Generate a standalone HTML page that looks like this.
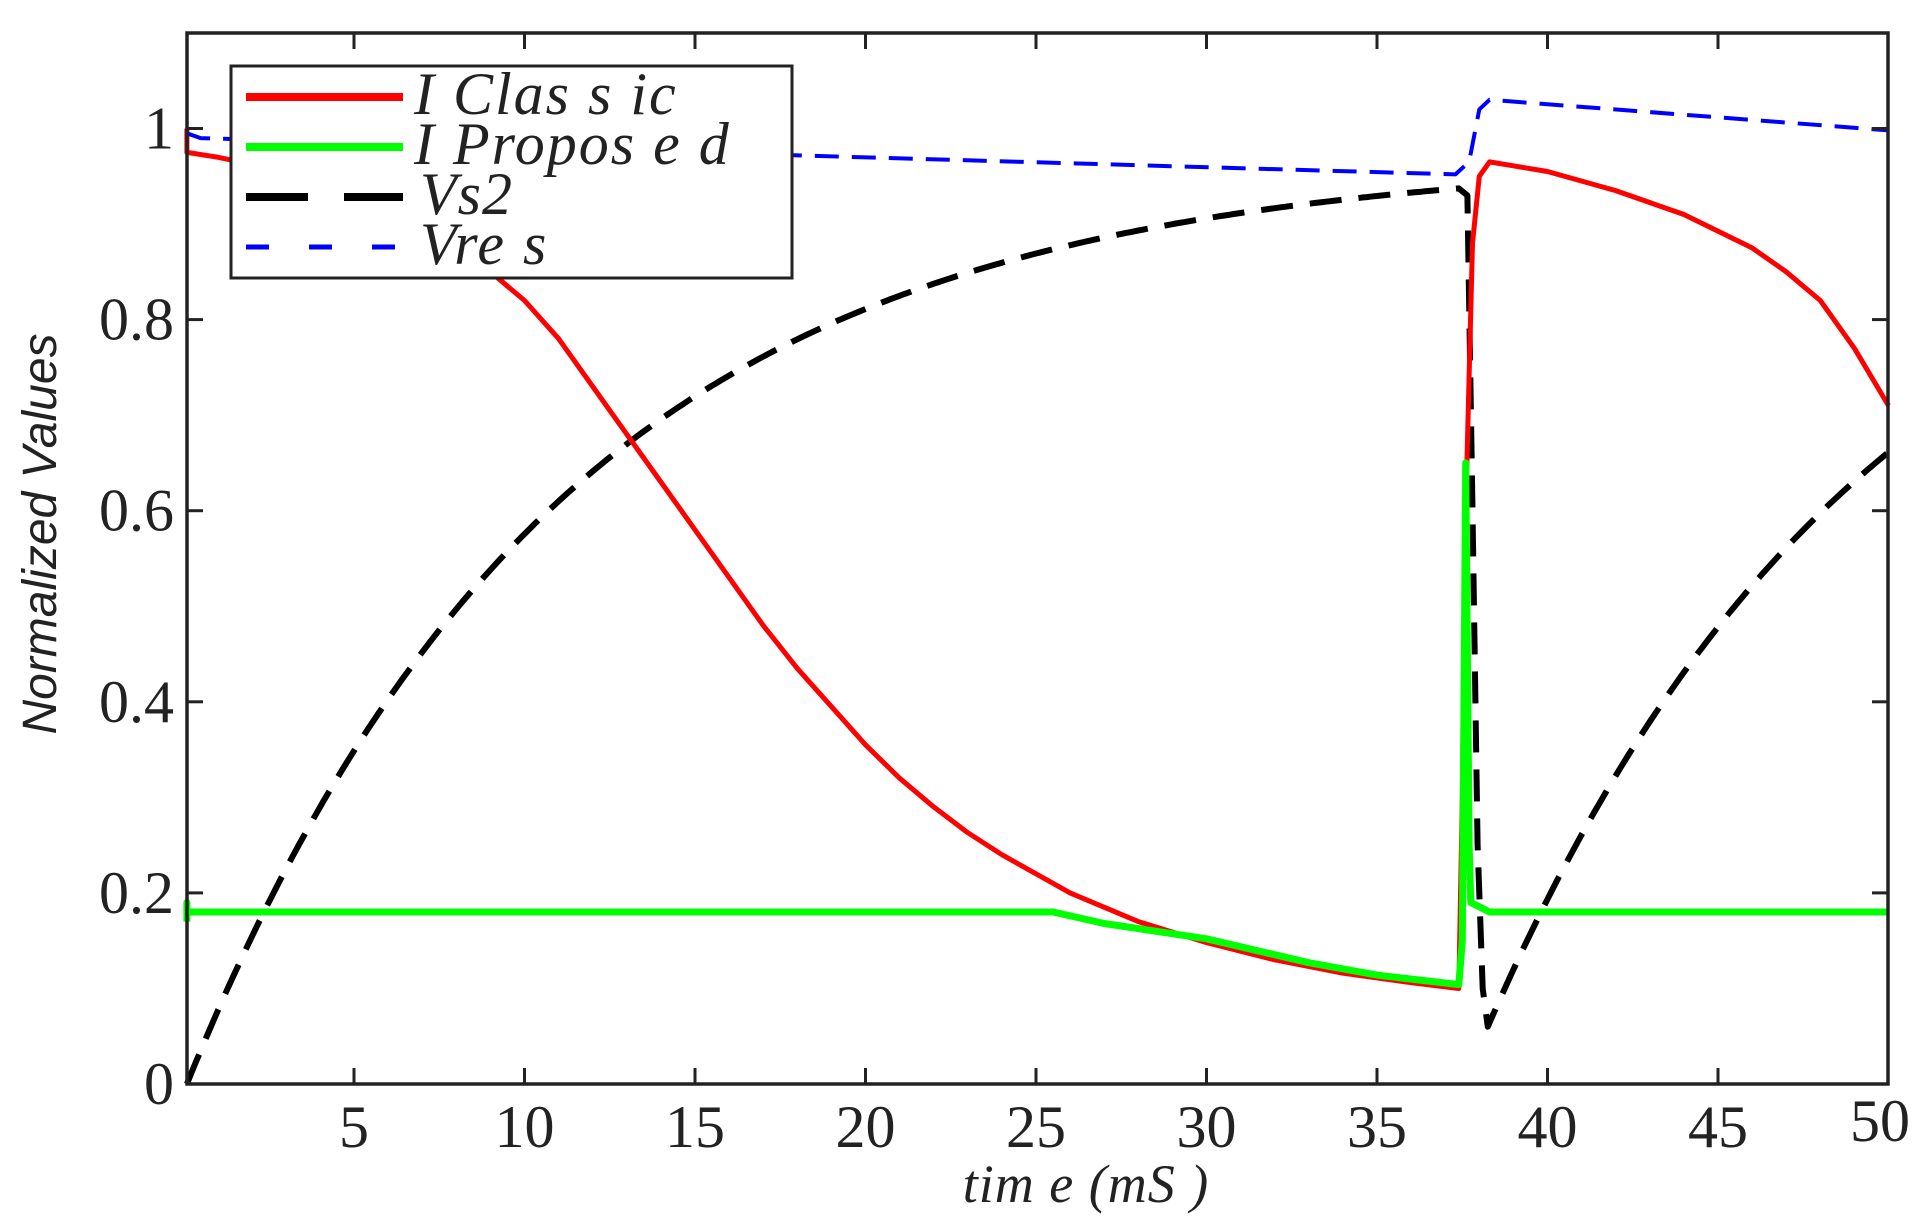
<!DOCTYPE html>
<html><head><meta charset="utf-8"><style>
html,body{margin:0;padding:0;background:#fff;}
svg{display:block;}
text{font-family:"Liberation Serif","Times New Roman",serif;fill:#222;}
</style></head><body>
<svg id="s" width="1924" height="1228" xmlns="http://www.w3.org/2000/svg">
<rect width="1924" height="1228" fill="#fff"/>
<g id="plot"></g>
<rect x="187" y="33" width="1701" height="1051" fill="none" stroke="#222" stroke-width="3.5"/>
<g id="ticks" stroke="#222" stroke-width="3"></g>
<g id="labels" font-size="60" font-family="Liberation Serif, Times New Roman, serif"></g>
<text x="1086" y="1202" font-size="54" font-style="italic" text-anchor="middle" letter-spacing="1" font-family="Liberation Serif, serif">tim e (mS )</text>
<text transform="translate(56,534) rotate(-90)" font-size="48" font-style="italic" text-anchor="middle" style="font-family:'Liberation Sans',sans-serif">Normalized Values</text>
<g>
<rect x="231" y="66" width="561" height="212" fill="#fff" stroke="#222" stroke-width="3"/>
<line x1="246" y1="97" x2="403" y2="97" stroke="#f00" stroke-width="8"/>
<line x1="246" y1="147" x2="403" y2="147" stroke="#0f0" stroke-width="8"/>
<line x1="246" y1="197" x2="403" y2="197" stroke="#000" stroke-width="8" stroke-dasharray="62,36"/>
<line x1="246" y1="247" x2="403" y2="247" stroke="#00f" stroke-width="5" stroke-dasharray="23,40"/>
<g font-size="60" font-style="italic" fill="#000" font-family="Liberation Serif, serif">
<text x="414" y="114" letter-spacing="2">I Clas s ic</text>
<text x="414" y="164" letter-spacing="2">I Propos e d</text>
<text x="420" y="214" letter-spacing="1">Vs2</text>
<text x="420" y="264" letter-spacing="2">Vre s</text>
</g>
</g>
</svg>
<script>
var X=function(t){return 183.5+34.1*t},Y=function(v){return 1084-955.5*v};
function path(pts){return pts.map(function(p,i){return (i?'L':'M')+X(p[0]).toFixed(1)+','+Y(p[1]).toFixed(1)}).join(' ');}
function add(d,col,w,dash){var p=document.createElementNS('http://www.w3.org/2000/svg','path');p.setAttribute('d',d);p.setAttribute('fill','none');p.setAttribute('stroke',col);p.setAttribute('stroke-width',w);if(dash)p.setAttribute('stroke-dasharray',dash);p.setAttribute('stroke-linejoin','round');document.getElementById('plot').appendChild(p);}
var vs=[];for(var t=0.1;t<=37.5;t+=0.1)vs.push([t,0.97*(1-Math.exp(-(t-0.1)/11))]);
vs.push([37.65,0.93],[37.8,0.6],[37.95,0.25],[38.1,0.1],[38.25,0.06]);
for(var t=38.3;t<=50.01;t+=0.1)vs.push([t,0.06+0.93*(1-Math.exp(-(t-38.25)/11.3))]);
var red=[[0.1,1.0],[0.1,0.975],[1,0.97],[3,0.955],[5,0.93],[7,0.89],[9,0.85],[10,0.82],[11,0.78],[12,0.73],[13,0.68],[14,0.63],[15,0.58],[16,0.53],[17,0.48],[18,0.435],[19,0.395],[20,0.355],[21,0.32],[22,0.29],[23,0.263],[24,0.24],[25,0.22],[26,0.2],[28,0.17],[30,0.148],[32,0.13],[34,0.116],[36,0.106],[37.4,0.1],[37.5,0.3],[37.6,0.6],[37.8,0.88],[38.0,0.95],[38.3,0.965],[40,0.955],[42,0.935],[44,0.91],[46,0.875],[47,0.85],[48,0.82],[49,0.77],[50,0.71]];
var green=[[0.1,0.17],[0.1,0.19],[0.1,0.18],[25.5,0.18],[27,0.168],[30,0.152],[33,0.127],[35,0.114],[37.4,0.104],[37.5,0.15],[37.6,0.65],[37.7,0.25],[37.75,0.19],[38.3,0.18],[50,0.18]];
var blue=[[0.1,0.995],[0.5,0.99],[37.3,0.952],[37.7,0.965],[38.0,1.02],[38.3,1.03],[50,0.998]];
add(path(vs),'#000',6,'32,17');
add(path(red),'#f00',5);
add(path(green),'#0f0',7);
add(path(blue),'#00f',4,'24,13');
var tk=document.getElementById('ticks'),lb=document.getElementById('labels'),s='';
for(var i=5;i<50;i+=5){var x=X(i);s+='<line x1="'+x+'" y1="1084" x2="'+x+'" y2="1068"/><line x1="'+x+'" y1="33" x2="'+x+'" y2="49"/>';}
for(var v=0.2;v<1.05;v+=0.2){var y=Y(v);s+='<line x1="187" y1="'+y+'" x2="203" y2="'+y+'"/><line x1="1888" y1="'+y+'" x2="1872" y2="'+y+'"/>';}
tk.innerHTML=s;s='';
for(var i=5;i<50;i+=5)s+='<text x="'+X(i)+'" y="1147" text-anchor="middle">'+i+'</text>';
s+='<text x="1880" y="1141" text-anchor="middle">50</text>';
var yl=['0','0.2','0.4','0.6','0.8','1'];
for(var k=0;k<6;k++)s+='<text x="174" y="'+(Y(k*0.2)+20)+'" text-anchor="end">'+yl[k]+'</text>';
lb.innerHTML=s;
</script>
</body></html>
